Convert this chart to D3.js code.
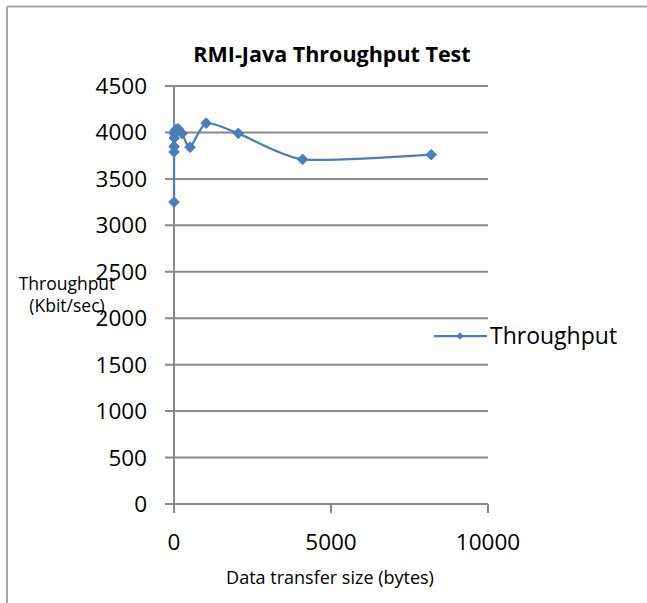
<!DOCTYPE html>
<html>
<head>
<meta charset="utf-8">
<script src="https://cdn.jsdelivr.net/npm/d3@7"></script>
<style>
html,body{margin:0;padding:0;background:#fff;}
svg{display:block;}
text{font-family:"Open Sans","Liberation Sans",sans-serif;fill:#000;}
</style>
</head>
<body>
<svg id="chart" width="647" height="603"></svg>
<script>
const chartTitle = "RMI-Java Throughput Test";
const xAxisTitle = "Data transfer size (bytes)";
const yAxisTitle = ["Throughput", "(Kbit/sec)"];
const seriesName = "Throughput";
const sizes = [1, 2, 4, 8, 16, 32, 64, 128, 256, 512, 1024, 2048, 4096, 8192];
const throughput = [3250, 3790, 3850, 3940, 3985, 4010, 4030, 4040, 3990, 3840, 4100, 3990, 3710, 3760];
const xTicks = [0, 5000, 10000];
const yTicks = [0, 500, 1000, 1500, 2000, 2500, 3000, 3500, 4000, 4500];

const svg = d3.select("#chart");
const color = "#4a7ebb";
const gridColor = "#898989";

// chart border (top & left)
svg.append("line").attr("x1", 7).attr("x2", 647).attr("y1", 6.5).attr("y2", 6.5)
  .attr("stroke", "#a6a6a6").attr("stroke-width", 2);
svg.append("line").attr("x1", 7).attr("x2", 7).attr("y1", 6.5).attr("y2", 603)
  .attr("stroke", "#a6a6a6").attr("stroke-width", 2);

const x = d3.scaleLinear().domain([0, 10000]).range([174, 488]);
const y = d3.scaleLinear().domain([0, 4500]).range([504, 86]);

// horizontal gridlines (extend left as tick marks)
svg.append("g").selectAll("line").data(yTicks).join("line")
  .attr("x1", 165).attr("x2", x(10000))
  .attr("y1", d => y(d)).attr("y2", d => y(d))
  .attr("stroke", gridColor).attr("stroke-width", 2);

// y axis line
svg.append("line").attr("x1", x(0)).attr("x2", x(0)).attr("y1", y(4500)).attr("y2", y(0) + 9)
  .attr("stroke", gridColor).attr("stroke-width", 2);

// x ticks
svg.append("g").selectAll("line").data(xTicks).join("line")
  .attr("x1", d => x(d)).attr("x2", d => x(d))
  .attr("y1", y(0)).attr("y2", y(0) + 9)
  .attr("stroke", gridColor).attr("stroke-width", 2);

// y tick labels
svg.append("g").selectAll("text").data(yTicks).join("text")
  .attr("x", 147).attr("y", d => y(d) + 8)
  .attr("text-anchor", "end").attr("font-size", 22.5).text(d => d);

// x tick labels
svg.append("g").selectAll("text").data(xTicks).join("text")
  .attr("x", d => x(d)).attr("y", 550)
  .attr("text-anchor", "middle").attr("font-size", 22.5).text(d => d);

// title
svg.append("text").attr("x", 332).attr("y", 62).attr("text-anchor", "middle")
  .attr("font-size", 21.5).attr("font-weight", "bold").text(chartTitle);

// x axis title
svg.append("text").attr("x", 330).attr("y", 584).attr("text-anchor", "middle")
  .attr("font-size", 18).text(xAxisTitle);

// y axis title
svg.append("text").attr("x", 67).attr("y", 290).attr("text-anchor", "middle")
  .attr("font-size", 17.5).text(yAxisTitle[0]);
svg.append("text").attr("x", 67).attr("y", 312).attr("text-anchor", "middle")
  .attr("font-size", 17.5).text(yAxisTitle[1]);

// series
const data = sizes.map((s, i) => ({x: s, y: throughput[i]}));
const line = d3.line().x(d => x(d.x)).y(d => y(d.y)).curve(d3.curveCardinal.tension(0.35));
svg.append("path").datum(data).attr("d", line)
  .attr("fill", "none").attr("stroke", color).attr("stroke-width", 2.25);

const diamond = d3.symbol().type(d3.symbolDiamond2).size(72);
svg.append("g").selectAll("path").data(data).join("path")
  .attr("d", diamond)
  .attr("transform", d => `translate(${x(d.x)},${y(d.y)})`)
  .attr("fill", color).attr("stroke", color).attr("stroke-width", 1);

// legend
const ly = 336;
svg.append("line").attr("x1", 434).attr("x2", 487).attr("y1", ly).attr("y2", ly)
  .attr("stroke", color).attr("stroke-width", 2.25);
svg.append("path").attr("d", d3.symbol().type(d3.symbolDiamond2).size(26))
  .attr("transform", `translate(460,${ly})`).attr("fill", color).attr("stroke", color);
svg.append("text").attr("x", 490).attr("y", ly + 8).attr("font-size", 23).text(seriesName);
</script>
</body>
</html>
